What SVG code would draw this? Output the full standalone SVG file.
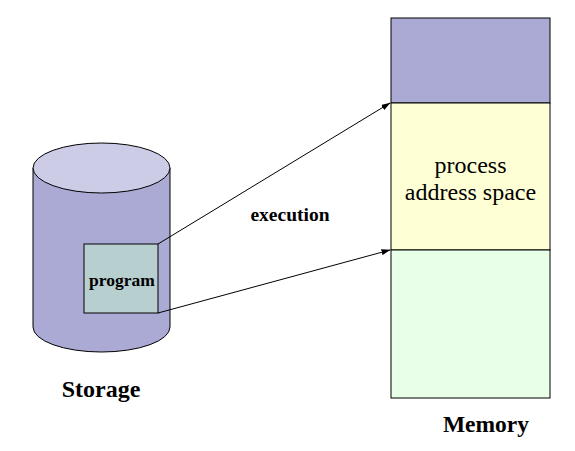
<svg xmlns="http://www.w3.org/2000/svg" width="575" height="451" viewBox="0 0 575 451">
<style>
.s{stroke:#000;stroke-width:1}
.b{font-family:'Liberation Serif','Times New Roman','DejaVu Serif',serif;font-weight:bold;fill:#000}
.n{font-family:'Liberation Serif','Times New Roman','DejaVu Serif',serif;fill:#000}
</style>
<defs>
<marker id="ah" markerWidth="9" markerHeight="6" refX="8.5" refY="3" orient="auto" markerUnits="userSpaceOnUse">
<path d="M0,0 L9,3 L0,6 z" fill="#000"/>
</marker>
</defs>
<rect width="575" height="451" fill="#fff"/>
<g id="storage">
<path class="s" d="M33,168 L33,327 A68.5,25 0 0 0 170,327 L170,168" fill="#AAAAD4"/>
<ellipse class="s" cx="101.5" cy="168" rx="68.5" ry="25" fill="#CCCCE6"/>
<text class="b" x="101" y="397" font-size="24" text-anchor="middle">Storage</text>
</g>
<g id="program">
<rect class="s" x="84" y="244" width="74" height="69" fill="#B8CFCF"/>
<text class="b" x="122" y="286" font-size="17.5" text-anchor="middle">program</text>
</g>
<g id="memory">
<rect class="s" x="391" y="18" width="159" height="85" fill="#AAAAD4"/>
<rect class="s" x="391" y="103" width="159" height="147" fill="#FFFFD6"/>
<rect class="s" x="391" y="250" width="159" height="148" fill="#E8FFE8"/>
<text class="n" x="470.5" y="173" font-size="24" text-anchor="middle">process</text>
<text class="n" x="470.5" y="200" font-size="24" text-anchor="middle">address space</text>
<text class="b" x="486" y="432" font-size="23.5" text-anchor="middle">Memory</text>
</g>
<g id="connectors">
<line class="s" x1="158" y1="244" x2="390" y2="103" marker-end="url(#ah)"/>
<line class="s" x1="158" y1="313" x2="390" y2="250" marker-end="url(#ah)"/>
<text class="b" x="290" y="221" font-size="19.5" text-anchor="middle">execution</text>
</g>
</svg>
